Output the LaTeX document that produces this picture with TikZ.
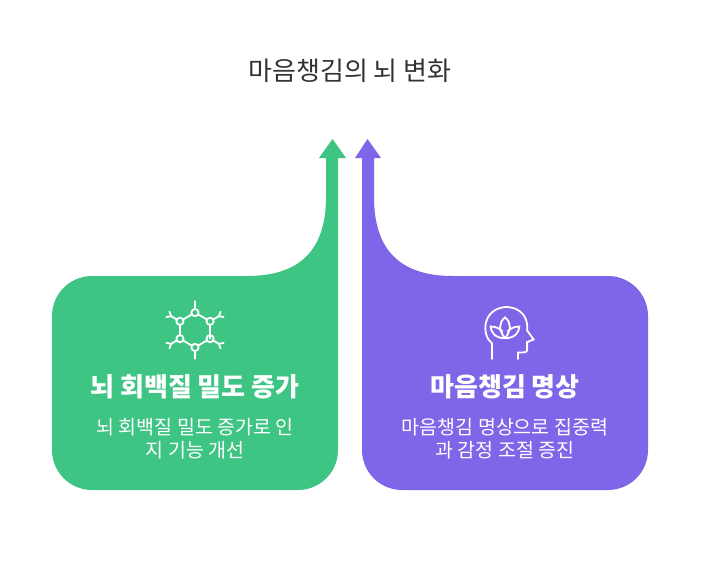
\documentclass[tikz,border=0pt]{standalone}
\usepackage{fontspec}
\setmainfont{Noto Sans CJK KR}
\definecolor{gr}{HTML}{3EC584}
\definecolor{pu}{HTML}{7F66E8}
\definecolor{tx}{HTML}{333333}
\begin{document}
\begin{tikzpicture}[x=1pt,y=-1pt,
  head/.style={text=white,font=\fontsize{26}{30}\selectfont\bfseries},
  body/.style={text=white,font=\fontsize{19.5}{23}\selectfont,align=center},
  ic/.style={white,line width=1.8pt,line cap=round}]
\useasboundingbox (0,0) rectangle (701,586);
\fill[gr] (92,276) -- (247,276) .. controls (300,276) and (326,250) .. (326,197) -- (326,158) -- (319,158) -- (332.5,139) -- (346,158) -- (338,158) -- (338,450) arc[start angle=0,end angle=90,radius=40] -- (92,490) arc[start angle=90,end angle=180,radius=40] -- (52,316) arc[start angle=180,end angle=270,radius=40] -- cycle;
\fill[pu] (608,276) -- (453,276) .. controls (400,276) and (374,250) .. (374,197) -- (374,158) -- (381,158) -- (367.5,139) -- (355,158) -- (362,158) -- (362,450) arc[start angle=180,end angle=90,radius=40] -- (608,490) arc[start angle=90,end angle=0,radius=40] -- (648,316) arc[start angle=0,end angle=-90,radius=40] -- cycle;
\node[text=tx,font=\fontsize{26}{30}\selectfont] (title) at (350,71) {마음챙김의 뇌 변화};
\node[head] (h1) at (195,387) {뇌 회백질 밀도 증가};
\node[body] (b1) at (195,439) {뇌 회백질 밀도 증가로 인\\지 기능 개선};
\node[head] (h2) at (505,387) {마음챙김 명상};
\node[body] (b2) at (505,439) {마음챙김 명상으로 집중력\\과 감정 조절 증진};
% molecule icon
\begin{scope}[shift={(195,330)},scale=1.2]
 \foreach \a in {30,90,...,330}{
   \draw[ic] (\a:14.5) -- (\a+60:14.5);
   \filldraw[ic,fill=gr] (\a:14.5) circle (3);
 }
 \draw[ic] (90:17.5) -- (90:24) (270:17.5) -- (270:24);
 \foreach \a in {30,150,210,330}{
   \draw[ic] (\a:17.5) -- (\a:23) -- ++(\a+40:4) (\a:23) -- ++(\a-40:4);
 }
\end{scope}
% head icon
\begin{scope}[shift={(505,333)},scale=1.3]
 \draw[ic] (-10,20) -- (-10,8) .. controls (-18,2) and (-18,-18) .. (0,-20) .. controls (14,-20) and (18,-10) .. (17,-2) -- (22,5) -- (17,7) -- (17,13) .. controls (17,15) and (15,15) .. (10,15) -- (10,20);
 \draw[ic] (0,4) .. controls (-5,-2) and (-5,-8) .. (0,-12) .. controls (5,-8) and (5,-2) .. (0,4);
 \draw[ic] (0,4) .. controls (-8,4) and (-11,-1) .. (-11,-5) .. controls (-7,-5) and (-3,-3) .. (-2,-1);
 \draw[ic] (0,4) .. controls (8,4) and (11,-1) .. (11,-5) .. controls (7,-5) and (3,-3) .. (2,-1);
\end{scope}
\end{tikzpicture}
\end{document}
